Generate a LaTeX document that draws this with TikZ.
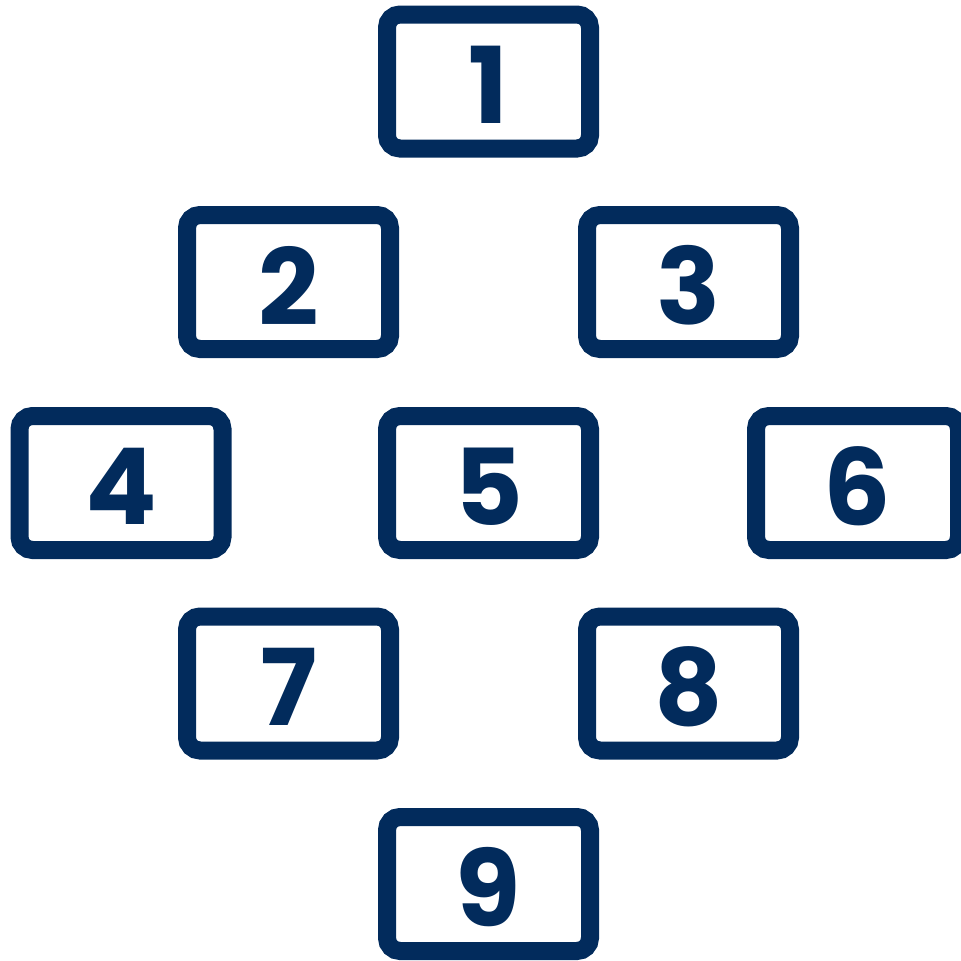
\documentclass[tikz,border=0pt]{standalone}
\usepackage{fontspec}
\setmainfont{Poppins}[UprightFont=* Bold]
\definecolor{navy}{RGB}{2,43,92}
\begin{document}
\begin{tikzpicture}[x=1pt,y=-1pt,
  keybox/.style={draw=navy, line width=18pt, rounded corners=13pt,
    minimum width=203pt, minimum height=134pt, inner sep=0pt},
  keylabel/.style={text=navy, inner sep=0pt, font=\fontsize{106}{106}\selectfont}]
\path[use as bounding box] (0,0) rectangle (961,961);
% keypad of nine rounded keys in a diamond
\foreach \n/\cx/\cy in {1/488.5/81.5, 2/288.5/282, 3/688.5/282,
                        4/121/483, 5/488.5/483, 6/857.5/483,
                        7/288.5/683.5, 8/688.5/683.5, 9/488.5/884}{
  \node[keybox] (k\n) at (\cx,\cy) {};
  \node[keylabel] (t\n) at ([yshift=-3.5pt]k\n.center) {\n};
}
\end{tikzpicture}
\end{document}
